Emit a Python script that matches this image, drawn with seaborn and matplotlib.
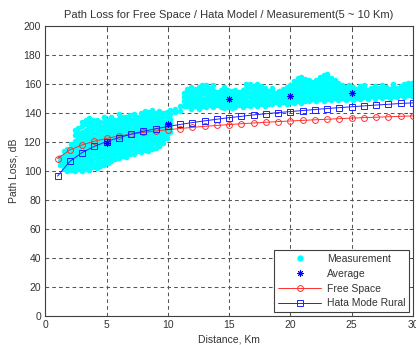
import matplotlib
matplotlib.use("Agg")
import matplotlib.pyplot as plt
import seaborn as sns
import pandas as pd
from matplotlib.lines import Line2D

# ---------------- data ----------------
distance = list(range(1, 31))
free_space = [108.5, 114.5, 118.0, 120.5, 122.5, 124.1, 125.4, 126.6, 127.6, 128.5,
              129.3, 130.1, 130.8, 131.4, 132.0, 132.6, 133.1, 133.6, 134.1, 134.5,
              134.9, 135.3, 135.7, 136.1, 136.5, 136.8, 137.1, 137.4, 137.7, 138.0]
hata_rural = [96.5, 106.6, 112.7, 117.0, 120.3, 123.0, 125.4, 127.4, 129.1, 130.7,
              132.1, 133.4, 134.6, 135.7, 136.8, 137.7, 138.7, 139.5, 140.3, 141.0,
              141.7, 142.4, 143.1, 143.7, 144.3, 144.9, 145.5, 146.0, 146.6, 147.0]

avg_dist = [5, 10, 15, 20, 25]
avg_loss = [119.5, 132.5, 150.0, 151.5, 154.0]

# measurement cloud, read column by column (distance km -> path loss values dB)
meas_cols = [
    (1.2, [104, 107, 110]),
    (1.5, [101.5, 104.5, 107.5, 110.5, 113.5]),
    (1.8, [100, 103, 106, 109, 112, 115]),
    (2.1, [100.5, 103.5, 106.5, 109.5, 112.5, 115.5, 118.5]),
    (2.4, [100, 103, 106, 109, 112, 115, 118, 121, 125, 128]),
    (2.7, [101.5, 104.5, 107.5, 110.5, 113.5, 116.5, 119.5, 122.5, 126.5, 130]),
    (3.0, [100, 103, 106, 109, 112, 115, 118, 121, 124, 127, 131, 134]),
    (3.3, [101.5, 104.5, 107.5, 110.5, 113.5, 116.5, 119.5, 122.5, 125.5, 128.5, 132.5, 135.5]),
    (3.6, [101, 104, 107, 110, 113, 116, 119, 122, 125, 128, 131, 134, 136.5]),
    (3.9, [102.5, 105.5, 108.5, 111.5, 114.5, 117.5, 120.5, 123.5, 126.5, 129.5, 132.5, 135.5]),
    (4.2, [102, 105, 108, 111, 114, 117, 120, 123, 126, 129, 132, 135]),
    (4.5, [103.5, 106.5, 109.5, 112.5, 115.5, 118.5, 121.5, 124.5, 127.5, 130.5, 133.5]),
    (4.8, [104, 107, 110, 113, 116, 119, 122, 125, 128, 131, 134, 137]),
    (5.1, [105.5, 108.5, 111.5, 114.5, 117.5, 120.5, 123.5, 126.5, 129.5, 132.5, 135.5]),
    (5.4, [107, 110, 113, 116, 119, 122, 125, 128, 131, 134, 137]),
    (5.7, [108.5, 111.5, 114.5, 117.5, 120.5, 123.5, 126.5, 129.5, 132.5, 135.5]),
    (6.0, [109, 112, 115, 118, 121, 124, 127, 130, 133, 136, 139]),
    (6.3, [110.5, 113.5, 116.5, 119.5, 122.5, 125.5, 128.5, 131.5, 134.5, 137.5]),
    (6.6, [110, 113, 116, 119, 122, 125, 128, 131, 134, 137]),
    (6.9, [111.5, 114.5, 117.5, 120.5, 123.5, 126.5, 129.5, 132.5, 135.5, 138.5]),
    (7.2, [112, 115, 118, 121, 124, 127, 130, 133, 136, 139]),
    (7.5, [113.5, 116.5, 119.5, 122.5, 125.5, 128.5, 131.5, 134.5, 137.5]),
    (7.8, [113, 116, 119, 122, 125, 128, 131, 134, 137, 140]),
    (8.1, [114.5, 117.5, 120.5, 123.5, 126.5, 129.5, 132.5, 135.5, 138.5, 141.5]),
    (8.4, [114, 117, 120, 123, 126, 129, 132, 135, 138, 141]),
    (8.7, [115.5, 118.5, 121.5, 124.5, 127.5, 130.5, 133.5, 136.5, 139.5, 142]),
    (9.0, [116, 119, 122, 125, 128, 131, 134, 137, 140]),
    (9.3, [117.5, 120.5, 123.5, 126.5, 129.5, 132.5, 135.5, 138.5, 141.5]),
    (9.6, [119, 122, 125, 128, 131, 134, 137, 140]),
    (9.9, [122.5, 125.5, 128.5, 131.5, 134.5, 137.5, 140.5]),
    (10.2, [127, 130, 133, 136, 139, 142]),
    (10.6, [140.5, 143]),
    (11.0, [141.5, 144.5]),
    (11.3, [145, 148, 151, 154]),
    (11.6, [144.5, 147.5, 150.5, 153.5, 156.5]),
    (11.9, [143, 146, 149, 152, 155, 158]),
    (12.2, [144.5, 147.5, 150.5, 153.5, 156.5]),
    (12.5, [143, 146, 149, 152, 155, 158]),
    (12.8, [144.5, 147.5, 150.5, 153.5, 156.5, 159.5]),
    (13.1, [144, 147, 150, 153, 156, 159]),
    (13.4, [145.5, 148.5, 151.5, 154.5, 157.5]),
    (13.7, [144, 147, 150, 153, 156, 159]),
    (14.0, [145.5, 148.5, 151.5, 154.5]),
    (14.3, [144, 147, 150, 153, 156]),
    (14.6, [143.5, 146.5, 149.5, 152.5, 155.5, 158]),
    (14.9, [144, 147, 150, 153, 156]),
    (15.2, [143.5, 146.5, 149.5, 152.5, 155.5]),
    (15.5, [144, 147, 150, 153, 156]),
    (15.8, [145.5, 148.5, 151.5, 154.5]),
    (16.1, [144, 147, 150, 153, 156]),
    (16.4, [145.5, 148.5, 151.5, 154.5, 157.5, 160]),
    (16.7, [145, 148, 151, 154, 157, 160]),
    (17.0, [146.5, 149.5, 152.5, 155.5, 158.5]),
    (17.3, [145, 148, 151, 154, 157, 160]),
    (17.6, [146.5, 149.5, 152.5, 155.5, 158.5]),
    (17.9, [145, 148, 151, 154, 157]),
    (18.2, [146.5, 149.5, 152.5, 155.5]),
    (18.5, [146, 149, 152, 155, 157]),
    (18.8, [147.5, 150.5, 153.5]),
    (19.1, [146, 149, 152, 155]),
    (19.4, [147.5, 150.5, 153.5, 156.5]),
    (19.7, [146, 149, 152, 155, 158]),
    (20.0, [147.5, 150.5, 153.5, 156.5, 159.5]),
    (20.3, [147, 150, 153, 156, 159, 162]),
    (20.6, [148.5, 151.5, 154.5, 157.5, 160.5, 164]),
    (20.9, [147, 150, 153, 156, 159, 162, 165]),
    (21.2, [148.5, 151.5, 154.5, 157.5, 160.5, 163.5]),
    (21.5, [148, 151, 154, 157, 160, 163]),
    (21.8, [149.5, 152.5, 155.5, 158.5, 161.5]),
    (22.1, [148, 151, 154, 157, 160, 163]),
    (22.4, [149.5, 152.5, 155.5, 158.5, 161.5, 164.5]),
    (22.7, [148, 151, 154, 157, 160, 163, 166]),
    (23.0, [149.5, 152.5, 155.5, 158.5, 161.5, 164.5, 167]),
    (23.3, [149, 152, 155, 158, 161, 164]),
    (23.6, [150.5, 153.5, 156.5, 159.5, 162.5]),
    (23.9, [149, 152, 155, 158, 161]),
    (24.2, [150.5, 153.5, 156.5, 159.5]),
    (24.5, [149, 152, 155, 158]),
    (24.8, [150.5, 153.5, 156.5, 159.5]),
    (25.1, [149, 152, 155, 158]),
    (25.4, [150.5, 153.5, 156.5]),
    (25.7, [149.5, 152.5, 155.5, 158.5]),
    (26.0, [151, 154, 157, 159.5]),
    (26.3, [150, 153, 156]),
    (26.6, [151.5, 154.5, 157.5]),
    (26.9, [150, 153, 156, 158.5]),
    (27.2, [151.5, 154.5, 157.5]),
    (27.5, [150.5, 153.5, 156.5, 159.5]),
    (27.8, [152, 155, 158]),
    (28.1, [150.5, 153.5, 156.5]),
    (28.4, [152, 155, 158, 160]),
    (28.7, [151, 154, 157]),
    (29.0, [152.5, 155.5, 158.5]),
    (29.3, [151, 154, 157, 160]),
    (29.6, [152.5, 155.5, 158.5, 161]),
    (29.9, [151.5, 154.5, 157.5, 160.5]),
]

x_ticks = [0, 5, 10, 15, 20, 25, 30]
y_ticks = [0, 20, 40, 60, 80, 100, 120, 140, 160, 180, 200]

meas = pd.DataFrame([(d, v) for d, vals in meas_cols for v in vals],
                    columns=["Distance", "Loss"])

# ---------------- plot ----------------
sns.set_style("white")
plt.rcParams["font.family"] = ["Liberation Sans", "DejaVu Sans"]
txt = "#333333"

fig = plt.figure(figsize=(4.16, 3.45), dpi=100)
ax = fig.add_axes([45.3 / 416, (345 - 316) / 345, (413 - 45.3) / 416, (316 - 26) / 345])

sns.scatterplot(data=meas, x="Distance", y="Loss", ax=ax, color="#00ffff",
                s=16, linewidth=0, zorder=2, legend=False)
sns.scatterplot(x=avg_dist, y=avg_loss, ax=ax, color="#0000ff", marker=(8, 2, 0),
                s=20, linewidth=0.7, edgecolor="#0000ff", zorder=5, legend=False)
sns.lineplot(x=distance, y=free_space, ax=ax, color="#ff3030", lw=0.7,
             marker="o", markersize=4.2, markerfacecolor="none",
             markeredgecolor="#ff3030", markeredgewidth=0.7, zorder=3)
sns.lineplot(x=distance, y=hata_rural, ax=ax, color="#2020ff", lw=0.7,
             marker="s", markersize=4.3, markerfacecolor="none",
             markeredgecolor="#2020ff", markeredgewidth=0.7, zorder=4)

ax.set_xlim(0, 30)
ax.set_ylim(0, 200)
ax.set_xticks(x_ticks)
ax.set_yticks(y_ticks)
ax.set_xticklabels([str(t) for t in x_ticks])
ax.set_yticklabels([str(t) for t in y_ticks])
ax.grid(True, color="#555555", linestyle=(0, (3.5, 3)), linewidth=0.75)
ax.set_axisbelow(True)
ax.tick_params(direction="in", length=3, width=0.6, colors="#404040",
               labelsize=7.5, labelcolor=txt, top=True, right=True, pad=3)
for sp in ax.spines.values():
    sp.set_color("#404040")
    sp.set_linewidth(0.8)

ax.set_title("Path Loss for Free Space / Hata Model / Measurement(5 ~ 10 Km)",
             fontsize=8, color=txt, pad=6)
ax.set_xlabel("Distance, Km", fontsize=7.5, color=txt, labelpad=3)
ax.set_ylabel("Path Loss, dB", fontsize=7.5, color=txt, labelpad=4)

handles = [
    Line2D([], [], linestyle="none", marker="o", color="#00ffff", markersize=3.5),
    Line2D([], [], linestyle="none", marker=(8, 2, 0), color="#0000ff",
           markersize=4.5, markeredgewidth=0.7),
    Line2D([], [], color="#ff3030", lw=0.7, marker="o", markersize=4.2,
           markerfacecolor="none", markeredgewidth=0.7),
    Line2D([], [], color="#2020ff", lw=0.7, marker="s", markersize=4.3,
           markerfacecolor="none", markeredgewidth=0.7),
]
labels = ["Measurement", "Average", "Free Space", "Hata Mode Rural"]
leg = ax.legend(handles, labels, loc="lower right", fontsize=7.5, frameon=True,
                fancybox=False, edgecolor="#404040", framealpha=1,
                borderaxespad=0.35, handlelength=4.2, labelspacing=0.45,
                borderpad=0.4, handletextpad=0.5)
leg.get_frame().set_linewidth(0.8)
for t in leg.get_texts():
    t.set_color(txt)

fig.savefig("out.png", dpi=100)
